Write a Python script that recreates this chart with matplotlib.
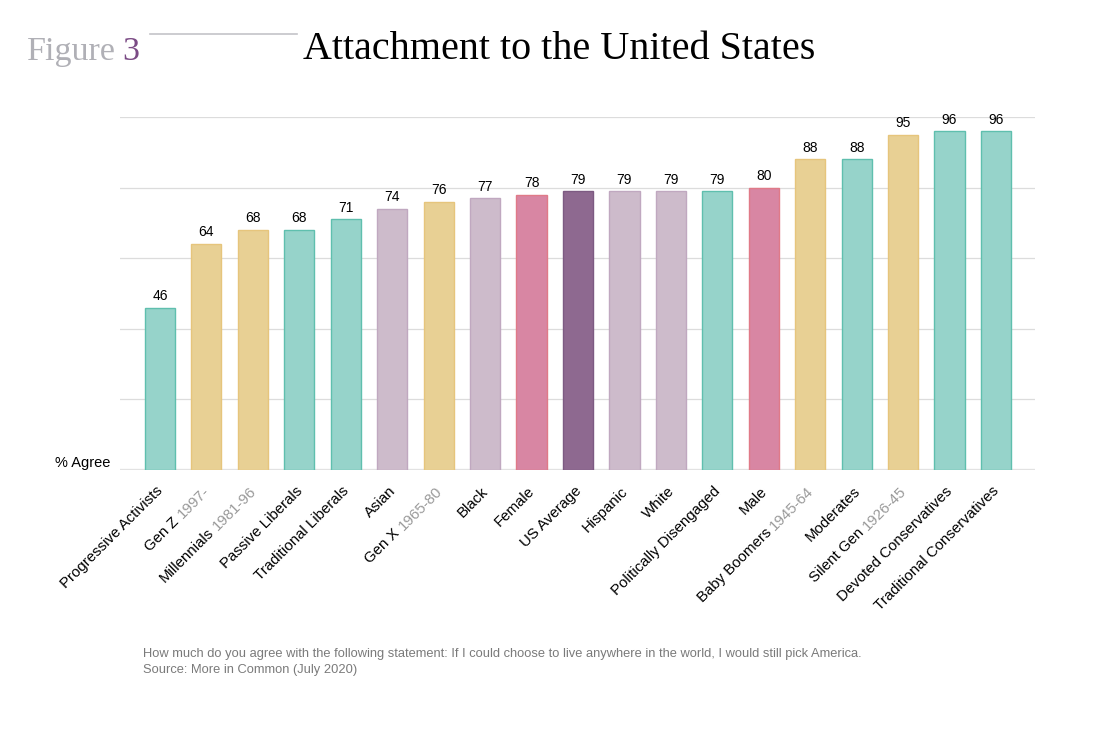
import numpy as np
import matplotlib.pyplot as plt
from matplotlib.transforms import ScaledTranslation

# data
names = ["Progressive Activists", "Gen Z", "Millennials", "Passive Liberals",
         "Traditional Liberals", "Asian", "Gen X", "Black", "Female", "US Average",
         "Hispanic", "White", "Politically Disengaged", "Male", "Baby Boomers",
         "Moderates", "Silent Gen", "Devoted Conservatives", "Traditional Conservatives"]
years = ["", "1997-", "1981-96", "", "", "", "1965-80", "", "", "",
         "", "", "", "", "1945-64", "", "1926-45", "", ""]
agree = [46, 64, 68, 68, 71, 74, 76, 77, 78, 79, 79, 79, 79, 80, 88, 88, 95, 96, 96]
group = ["seg", "gen", "gen", "seg", "seg", "race", "gen", "race", "sex", "avg",
         "race", "race", "seg", "sex", "gen", "seg", "gen", "seg", "seg"]

fills = {"seg": "#96d3ca", "gen": "#e8d094", "race": "#cdbbcb", "sex": "#d886a3", "avg": "#8e6990"}
edges = {"seg": "#5fbfae", "gen": "#e6c57c", "race": "#c0a8c0", "sex": "#e07a88", "avg": "#7d5a82"}

W, H = 1098, 754
fig = plt.figure(figsize=(W / 100, H / 100), dpi=100)
ax = fig.add_axes([120 / W, 1 - 470 / H, (1035 - 120) / W, (470 - 117) / H])

x = np.arange(len(agree))
ax.bar(x, agree, width=0.65, color=[fills[g] for g in group],
       edgecolor=[edges[g] for g in group], linewidth=1, zorder=3)
for xi, v in zip(x, agree):
    ax.text(xi, v + 1.3, str(v), ha="center", va="bottom", fontsize=10,
            family="Liberation Sans", color="black")

ax.set_xlim(-0.86, len(agree) - 1 + 0.84)
ax.set_ylim(0, 100)
ax.set_yticks(np.arange(0, 101, 20))
ax.yaxis.grid(True, color="#dcdcdc", linewidth=0.9, zorder=0)
ax.axhline(0, color="#e2e2e2", linewidth=2.4, zorder=2)
ax.tick_params(left=False, bottom=False, labelleft=False, labelbottom=False)
for s in ax.spines.values():
    s.set_visible(False)

ax.text(-0.011, 0.0, "% Agree", transform=ax.transAxes, ha="right", va="bottom",
        fontsize=10.5, family="Liberation Sans")

# rotated category labels, year part in grey
renderer = fig.canvas.get_renderer()
base = ax.get_xaxis_transform()
fs = 10.8
c = np.cos(np.pi / 4)
for xi, name, yr in zip(x, names, years):
    off = ScaledTranslation(1 / 100, -19 / 100, fig.dpi_scale_trans)
    dx = 0
    if yr:
        ax.text(xi, 0, yr, transform=base + off, rotation=45, rotation_mode="anchor",
                ha="right", va="center", fontsize=fs, family="Liberation Sans",
                color="#9a9a9a")
        tmp = ax.text(0, 0, " " + yr, fontsize=fs, family="Liberation Sans")
        dx = tmp.get_window_extent(renderer).width
        tmp.remove()
    off2 = ScaledTranslation((1 - dx * c) / 100, (-19 - dx * c) / 100, fig.dpi_scale_trans)
    ax.text(xi, 0, name, transform=base + off2, rotation=45, rotation_mode="anchor",
            ha="right", va="center", fontsize=fs, family="Liberation Sans", color="black")

# header
fig.text(27 / W, 1 - 60 / H, "Figure", fontsize=24.5, family="Liberation Serif",
         color="#b0b0b6", va="baseline")
fig.text(122 / W, 1 - 60 / H, "3", fontsize=24.5, family="Liberation Serif",
         color="#7b4b85", va="baseline")
fig.add_artist(plt.Line2D([150 / W, 297 / W], [1 - 34 / H, 1 - 34 / H],
                          color="#c4c4c8", linewidth=1.2))
fig.text(303 / W, 1 - 59 / H, "Attachment to the United States", fontsize=28.9,
         family="Liberation Serif", color="black", va="baseline")

fig.text(143 / W, 1 - 657 / H,
         "How much do you agree with the following statement: If I could choose to live "
         "anywhere in the world, I would still pick America.",
         fontsize=9.3, family="Liberation Sans", color="#7a7a7a", va="baseline")
fig.text(143 / W, 1 - 673 / H, "Source: More in Common (July 2020)",
         fontsize=9.3, family="Liberation Sans", color="#7a7a7a", va="baseline")

fig.savefig("out.png", dpi=100)
